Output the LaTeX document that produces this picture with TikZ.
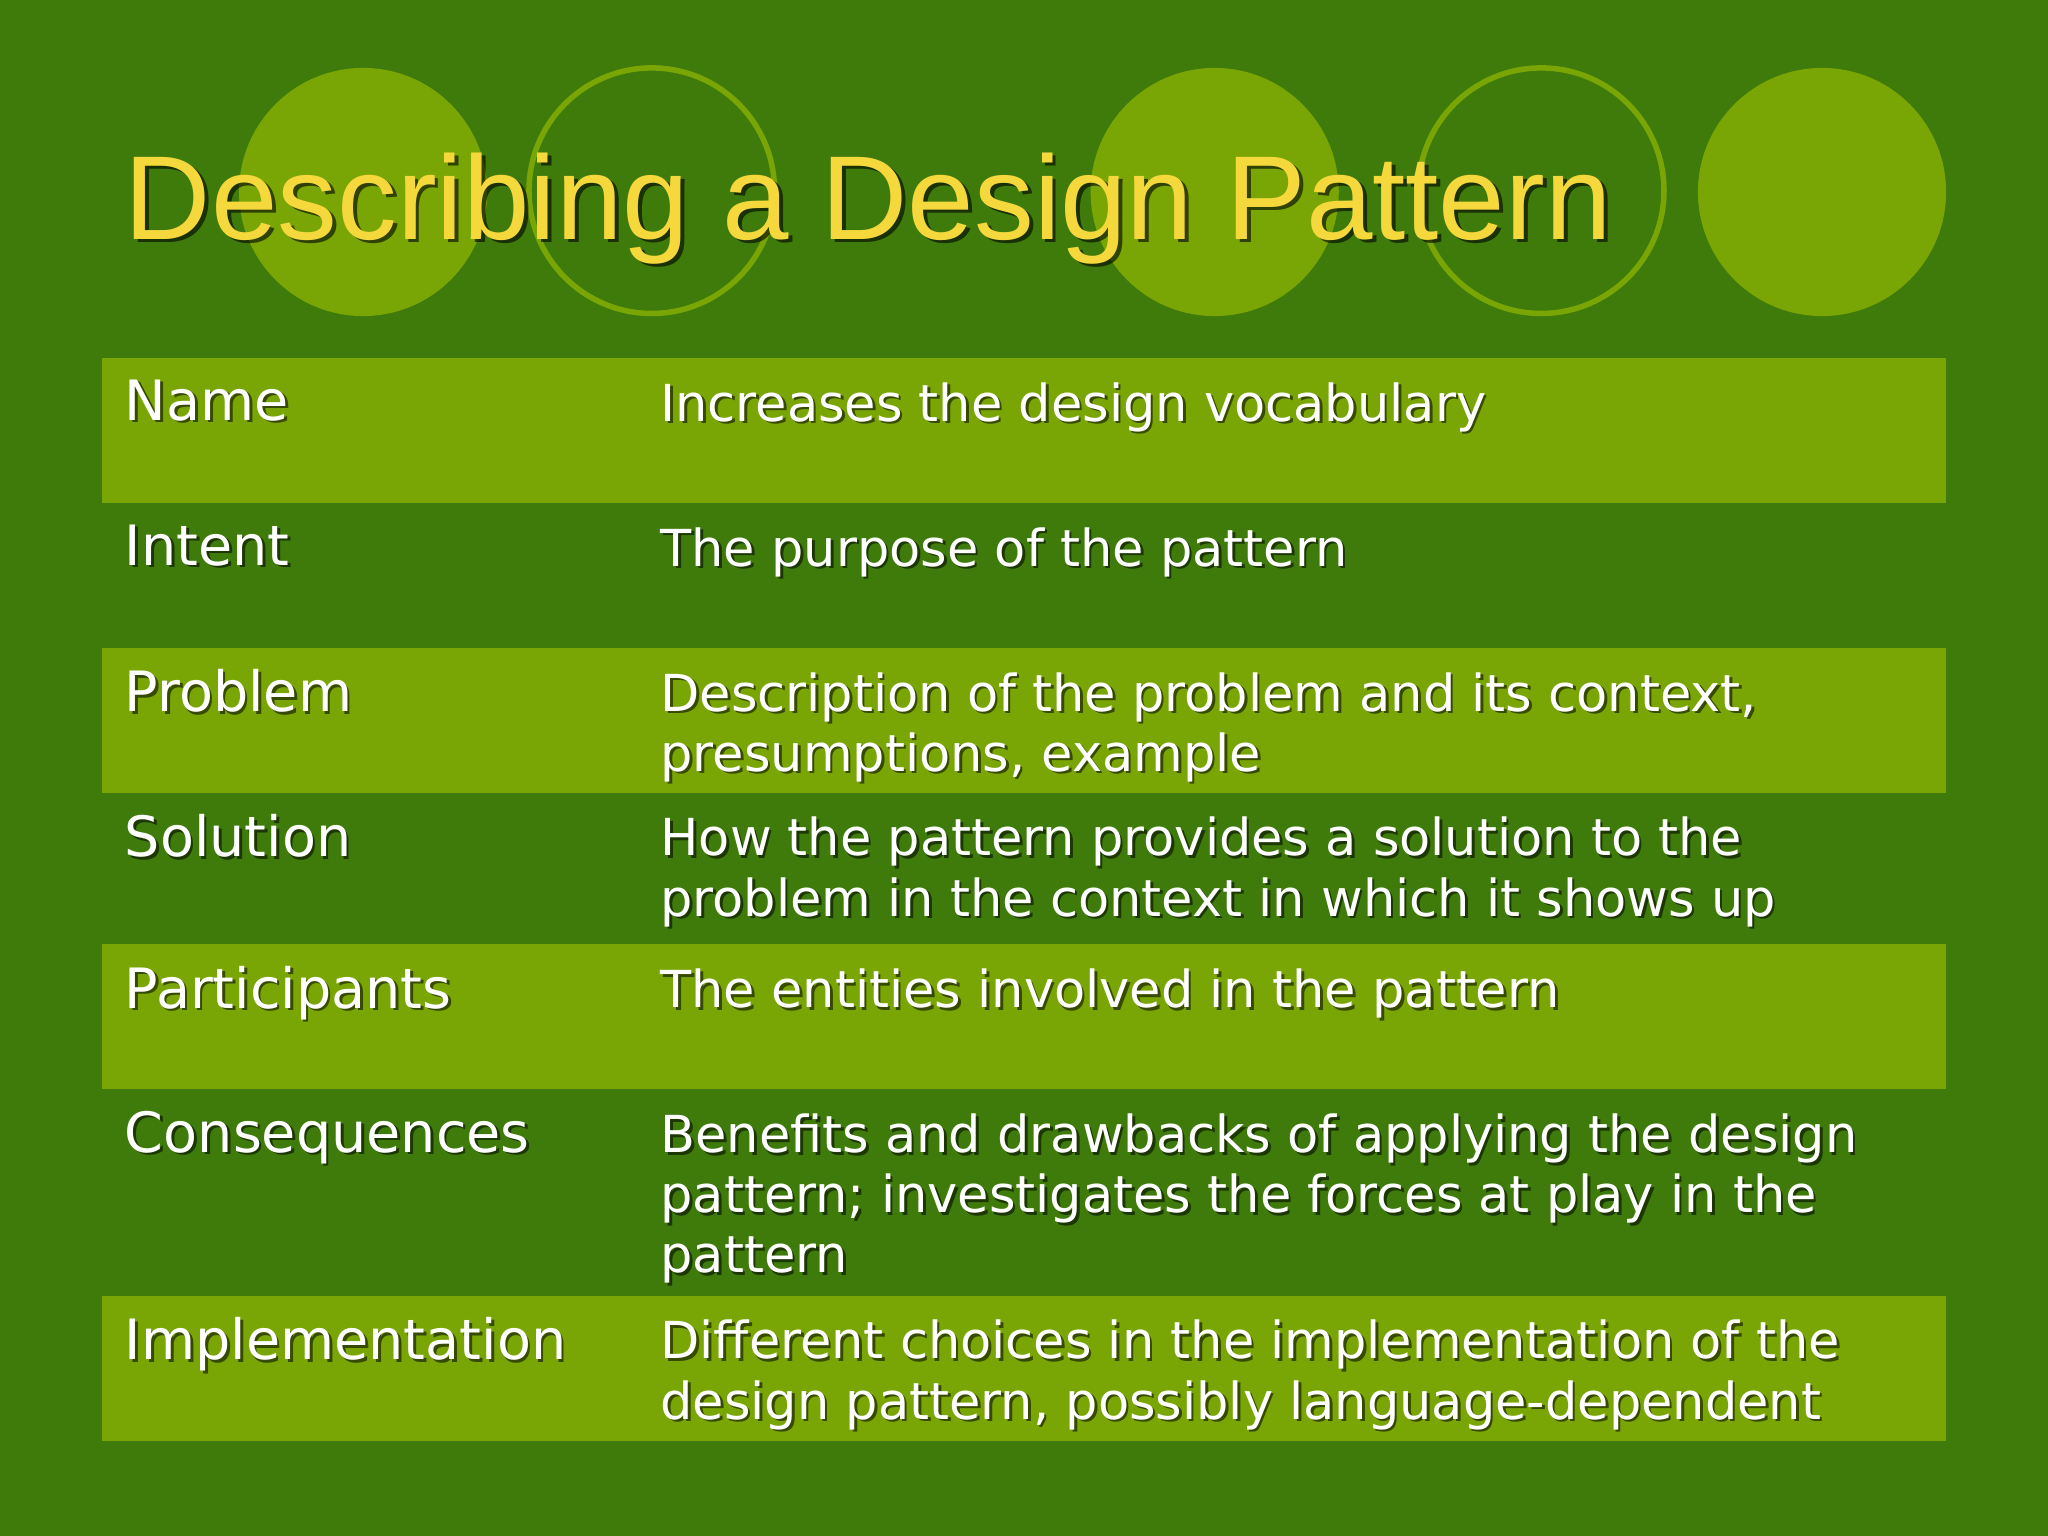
\documentclass[tikz,border=0pt]{standalone}
\usepackage{fontspec}
\setmainfont{DejaVu Sans}
\newfontfamily\titlefont{Liberation Sans}
\usepackage{tikz}
\usetikzlibrary{positioning}
\definecolor{bgdark}{HTML}{3F7B0B}
\definecolor{olive}{HTML}{79A605}
\definecolor{titleyellow}{HTML}{F4D83C}
\tikzset{
  cell/.style={anchor=north west,inner sep=0pt,align=left,text=white,
    font=\fontsize{11.1pt}{13.1pt}\selectfont},
  label/.style={cell,font=\fontsize{12.1pt}{13.1pt}\selectfont},
}
% one row: name, top y, label, description
\newcommand{\tabrow}[4]{%
  \node[label,text=black,opacity=0.55] (#1ls) at (97,#2+18) {#3};
  \node[label] (#1l)  at (95,#2+16) {#3};
  \node[cell,text=black,opacity=0.55] (#1ds) at (507,#2+20) {#4};
  \node[cell]  (#1d)  at (505,#2+18) {#4};}
\begin{document}
\begin{tikzpicture}[x=0.01cm,y=-0.01cm]
\fill[bgdark] (0,0) rectangle (1568,1176);
\useasboundingbox (0,0) rectangle (1568,1176);
%% circles
\fill[olive] (278,147) circle (95);
\draw[olive,line width=1.2pt] (499,146) circle (94);
\fill[olive] (930,147) circle (95);
\draw[olive,line width=1.2pt] (1180,146) circle (94);
\fill[olive] (1395,147) circle (95);
%% title
\node[anchor=base west,inner sep=0pt,text=black,opacity=0.6,font=\titlefont\fontsize{26pt}{30pt}\selectfont] (titles) at (98,186) {Describing a Design Pattern};
\node[anchor=base west,inner sep=0pt,text=titleyellow,font=\titlefont\fontsize{26pt}{30pt}\selectfont] (title) at (95,183) {Describing a Design Pattern};
%% row bands
\fill[olive] (78,274) rectangle (1490,385);
\fill[olive] (78,496) rectangle (1490,607);
\fill[olive] (78,723) rectangle (1490,834);
\fill[olive] (78,992) rectangle (1490,1103);
%% texts
\tabrow{name}{274}{Name}{Increases the design vocabulary}
\tabrow{intent}{385}{Intent}{The purpose of the pattern}
\tabrow{problem}{496}{Problem}{Description of the problem and its context,\\presumptions, example}
\tabrow{solution}{607}{Solution}{How the pattern provides a solution to the\\problem in the context in which it shows up}
\tabrow{part}{723}{Participants}{The entities involved in the pattern}
\tabrow{cons}{834}{Consequences}{Benefits and drawbacks of applying the design\\pattern; investigates the forces at play in the\\pattern}
\tabrow{impl}{992}{Implementation}{Different choices in the implementation of the\\design pattern, possibly language-dependent}
\end{tikzpicture}
\end{document}
